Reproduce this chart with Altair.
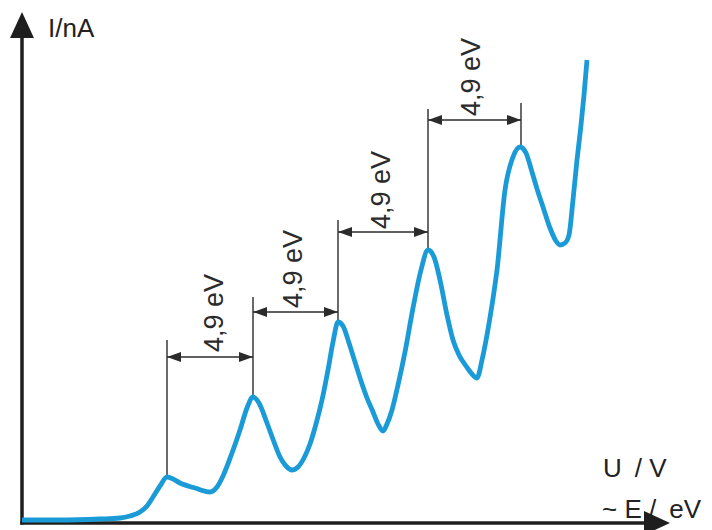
import altair as alt
import pandas as pd

# Franck-Hertz curve (arbitrary units: U along x, I along y)
curve_u = [0, 3.8, 7.8, 9.8, 10.8, 11.8, 12.5, 13.1, 13.8, 14.5, 15.1, 15.8, 17.3, 18.8,
           19.5, 20.1, 21.0, 21.8, 22.5, 23.1, 23.7, 24.5, 25.2, 25.8, 26.4, 27.0,
           27.6, 28.2, 28.8, 29.4, 30.0, 30.6, 31.1, 31.6,
           32.1, 32.7, 33.3, 33.9, 34.5, 35.1, 35.6, 36.1,
           36.5, 37.0, 37.6, 38.3, 39.1, 39.9, 40.6,
           41.2, 41.8, 42.5, 43.1, 43.7, 44.4, 45.0, 45.5,
           46.0, 46.5, 47.0, 47.5, 48.3, 49.1, 49.8,
           50.4, 51.0, 51.6, 52.1, 52.8, 53.4, 53.8, 54.3, 54.7, 55.1, 55.5, 55.9, 56.2, 56.5]
curve_i = [0.2, 0.2, 0.3, 0.4, 0.6, 1.0, 1.6, 2.5, 3.6, 4.5, 4.3, 3.9, 3.4, 3.0,
           3.5, 4.6, 6.9, 9.2, 11.4, 12.5, 11.9, 9.9, 8.0, 6.5, 5.6, 5.2,
           5.5, 6.4, 7.8, 9.8, 12.2, 15.2, 18.0, 20.0,
           19.6, 17.9, 16.0, 14.1, 12.4, 11.0, 9.8, 9.1,
           9.8, 11.2, 13.7, 17.0, 21.4, 25.2, 27.2,
           26.5, 24.2, 20.7, 18.2, 16.7, 15.6, 14.8, 14.4,
           16.2, 18.7, 21.7, 25.2, 33.2, 36.5, 37.5,
           36.9, 35.0, 33.0, 31.5, 29.4, 28.1, 27.7, 27.9, 28.7, 32.2, 36.2, 39.7, 42.7, 46.2]

# vertical marker lines at the peaks
vline_u = [14.5, 23.1, 31.6, 40.6, 49.9]
vline_lo = [4.5, 12.5, 20.0, 27.2, 37.5]
vline_hi = [18.2, 22.5, 30.2, 41.3, 41.9]

# 4,9 eV brackets
br_u1 = [14.5, 23.1, 31.6, 40.6]
br_u2 = [23.1, 31.6, 40.6, 49.9]
br_i = [16.5, 21.0, 29.0, 40.2]
lab_u = [20.1, 28.0, 36.8, 45.8]
lab_i = [17.0, 21.4, 29.3, 40.6]
lab_text = ["4,9 eV", "4,9 eV", "4,9 eV", "4,9 eV"]

# axis titles
title_u = [2.6, 58.1, 58.0]
title_i = [48.5, 4.5, 0.4]
title_text = ["I/nA", "U\u2002/ V", "~ E /\u2002eV"]

XD = [0, 64.6]
YD = [0, 51]
FONT = "Liberation Sans"
DARK = "#2b2b2b"
AX = "#1e1e1e"


def X(f):
    return alt.X(f, scale=alt.Scale(domain=XD), axis=None)


def Y(f):
    return alt.Y(f, scale=alt.Scale(domain=YD), axis=None)


curve_df = pd.DataFrame({"u": curve_u, "i": curve_i})
vl_df = pd.DataFrame({"u": vline_u, "lo": vline_lo, "hi": vline_hi})
br_df = pd.DataFrame({"u1": br_u1, "u2": br_u2, "i": br_i})
lab_df = pd.DataFrame({"u": lab_u, "i": lab_i, "t": lab_text})
left_heads = pd.DataFrame({"u": br_u1, "i": br_i})
right_heads = pd.DataFrame({"u": br_u2, "i": br_i})
title_df = pd.DataFrame({"u": title_u, "i": title_i, "t": title_text})

curve = alt.Chart(curve_df).mark_line(
    color="#1a9bd7", strokeWidth=4.8, interpolate="monotone"
).encode(x=X("u:Q"), y=Y("i:Q"))

vlines = alt.Chart(vl_df).mark_rule(color=DARK, strokeWidth=1.4).encode(
    x=X("u:Q"), y=Y("lo:Q"), y2=alt.Y2("hi"))

brackets = alt.Chart(br_df).mark_rule(color=DARK, strokeWidth=1.4).encode(
    x=X("u1:Q"), x2=alt.X2("u2"), y=Y("i:Q"))

lh = alt.Chart(left_heads).mark_point(
    shape="M0,0L2,-0.72L2,0.72Z", filled=True, size=196, color=DARK, opacity=1
).encode(x=X("u:Q"), y=Y("i:Q"))
rh = alt.Chart(right_heads).mark_point(
    shape="M0,0L-2,-0.72L-2,0.72Z", filled=True, size=196, color=DARK, opacity=1
).encode(x=X("u:Q"), y=Y("i:Q"))

labels = alt.Chart(lab_df).mark_text(
    angle=270, align="left", baseline="alphabetic", font=FONT, fontSize=27, color=DARK
).encode(x=X("u:Q"), y=Y("i:Q"), text="t:N")

titles = alt.Chart(title_df).mark_text(
    align="left", baseline="alphabetic", font=FONT, fontSize=26, color="#222222"
).encode(x=X("u:Q"), y=Y("i:Q"), text="t:N")

# axes with arrow heads
y_axis_df = pd.DataFrame({"u": [0.0], "lo": [-0.25], "hi": [48.5]})
x_axis_df = pd.DataFrame({"u1": [-0.17], "u2": [62.6], "i": [-0.1]})
y_tip = pd.DataFrame({"u": [0.0], "i": [51.0]})
x_tip = pd.DataFrame({"u": [64.8], "i": [-0.1]})

y_axis = alt.Chart(y_axis_df).mark_rule(color=AX, strokeWidth=3.5).encode(
    x=X("u:Q"), y=Y("lo:Q"), y2=alt.Y2("hi"))
x_axis = alt.Chart(x_axis_df).mark_rule(color=AX, strokeWidth=3.5).encode(
    x=X("u1:Q"), x2=alt.X2("u2"), y=Y("i:Q"))
y_head = alt.Chart(y_tip).mark_point(
    shape="M0,0L-0.92,2L0.92,2Z", filled=True, size=676, color=AX, opacity=1
).encode(x=X("u:Q"), y=Y("i:Q"))
x_head = alt.Chart(x_tip).mark_point(
    shape="M0,0L-2,-0.92L-2,0.92Z", filled=True, size=676, color=AX, opacity=1
).encode(x=X("u:Q"), y=Y("i:Q"))

chart = alt.layer(
    vlines, brackets, lh, rh, labels, titles, y_axis, x_axis, y_head, x_head, curve
).properties(
    width=646, height=510,
    autosize=alt.AutoSizeParams(type="none"),
    padding={"left": 14, "top": 4, "right": 36, "bottom": 10},
).configure_view(stroke=None)

chart.save("out.html", embed_options={"renderer": "svg", "actions": False})
